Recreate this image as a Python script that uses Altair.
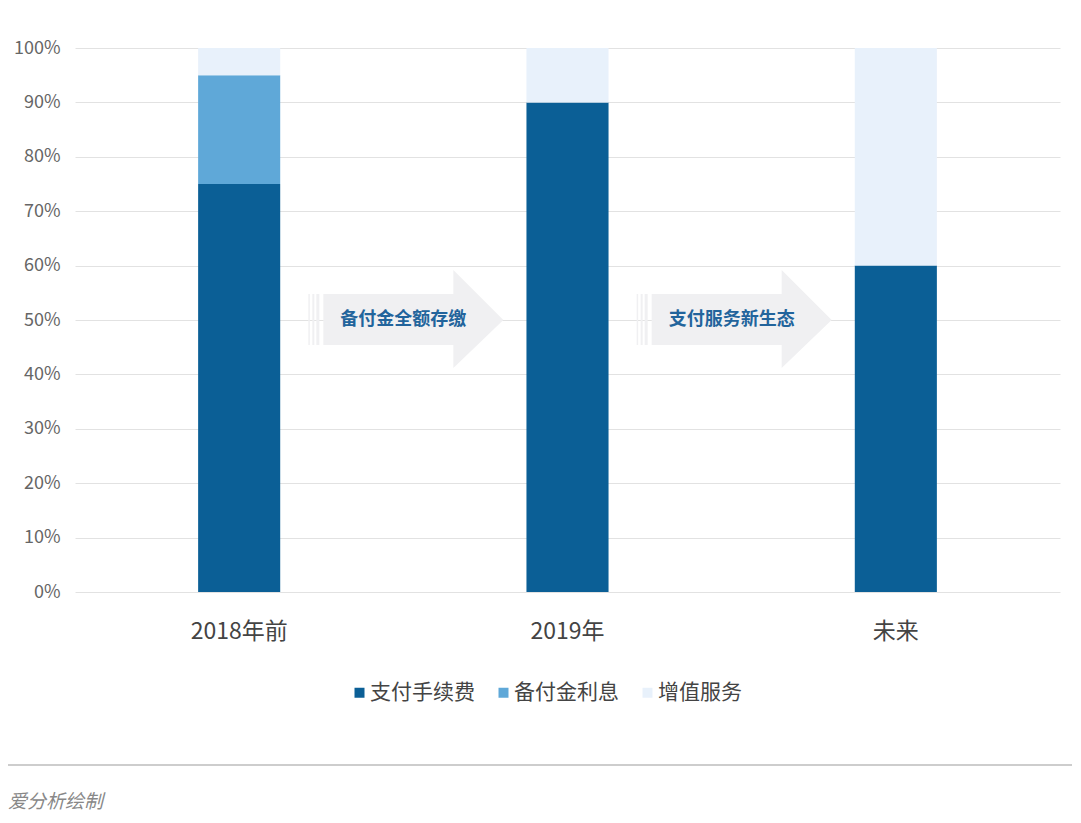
import altair as alt
import pandas as pd

periods = ["2018年前", "2019年", "未来"]
series = ["支付手续费", "备付金利息", "增值服务"]
fee_share = [75, 90, 60]
interest_share = [20, 0, 0]
value_added_share = [5, 10, 40]
colors = ["#0b5f96", "#5fa8d8", "#e8f1fb"]

arrow_pos = [1, 2]
arrow_labels = ["备付金全额存缴", "支付服务新生态"]
arrow_level = [50, 50]

rows = []
for i, p in enumerate(periods):
    for j, (s, vals) in enumerate(zip(series, [fee_share, interest_share, value_added_share])):
        rows.append({"period": p, "series": s, "value": vals[i], "order": j})
df = pd.DataFrame(rows)

arrows_df = pd.DataFrame({"pos": arrow_pos, "label": arrow_labels, "level": arrow_level})

FONT = "Noto Sans CJK SC"

bars = alt.Chart(df).mark_bar(strokeWidth=0).encode(
    x=alt.X("period:N", sort=periods, title=None,
            scale=alt.Scale(paddingInner=0.75, paddingOuter=0.375),
            axis=alt.Axis(labelAngle=0, labelFontSize=23, labelColor="#444444", labelFont=FONT,
                          labelPadding=28, ticks=False, domain=False, grid=False)),
    y=alt.Y("value:Q", stack="zero", title=None,
            scale=alt.Scale(domain=[0, 100], nice=False),
            axis=alt.Axis(values=list(range(0, 101, 10)), labelExpr="datum.value + '%'",
                          labelFontSize=18, labelColor="#666666", labelFont=FONT,
                          labelPadding=15, ticks=False, domain=False,
                          gridColor="#e2e2e2", gridWidth=1)),
    color=alt.Color("series:N", sort=series, title=None,
                    scale=alt.Scale(domain=series, range=colors),
                    legend=alt.Legend(orient="none", direction="horizontal", legendX=274, legendY=634,
                                      symbolType="square", symbolSize=100, symbolStrokeWidth=0,
                                      labelFontSize=21, labelColor="#444444", labelFont=FONT,
                                      labelOffset=0, columnPadding=18)),
    order=alt.Order("order:Q", sort="ascending"),
)

arrow_path = (
    "M -0.80 -0.26 L 0.50 -0.26 L 0.50 -0.50 L 1.00 0 L 0.50 0.48 L 0.50 0.25 L -0.80 0.25 Z "
    "M -0.95 -0.26 L -0.935 -0.26 L -0.935 0.25 L -0.95 0.25 Z "
    "M -0.91 -0.26 L -0.89 -0.26 L -0.89 0.25 L -0.91 0.25 Z "
    "M -0.87 -0.26 L -0.84 -0.26 L -0.84 0.25 L -0.87 0.25 Z"
)

xq = alt.X("pos:Q", scale=alt.Scale(domain=[0, 3], nice=False, zero=False), axis=None)

arrows = alt.Chart(arrows_df).mark_point(
    shape=arrow_path, size=40000, filled=True, fill="#f0f0f2", opacity=1, strokeWidth=0
).encode(x=xq, y=alt.Y("level:Q"))

arrow_text = alt.Chart(arrows_df).mark_text(
    fontSize=18, fontWeight="bold", color="#22649c", font=FONT
).encode(x=xq, y=alt.Y("level:Q"), text="label:N")

note_df = pd.DataFrame({"note": ["爱分析绘制"]})
sep = alt.Chart(note_df).mark_rule(color="#bdbdbd", strokeWidth=1.5).encode(
    x=alt.value(-67), x2=alt.value(997), y=alt.value(717)
)
caption = alt.Chart(note_df).mark_text(
    align="left", baseline="middle", fontSize=19, fontStyle="italic", color="#888888", font=FONT
).encode(x=alt.value(-67), y=alt.value(754), text="note:N")

chart = alt.layer(bars, arrows, arrow_text, sep, caption).resolve_scale(
    x="independent"
).properties(
    width=985, height=544,
    padding={"left": 67, "top": 40, "right": 13, "bottom": 222},
    autosize=alt.AutoSizeParams(type="none"),
    background="white",
).configure_view(stroke=None)

chart.save("out.html", embed_options={"renderer": "svg", "actions": False})
